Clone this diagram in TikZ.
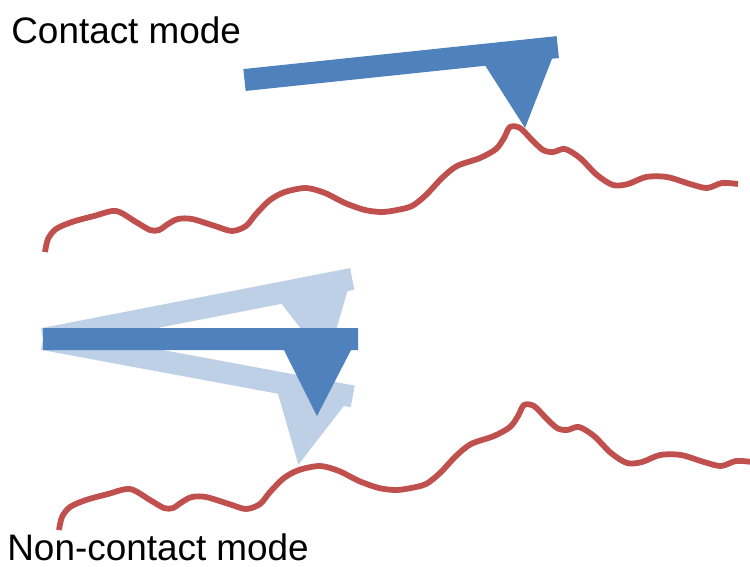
\documentclass[tikz,border=0pt]{standalone}
\usepackage{fontspec}
\setmainfont{Liberation Sans}
\usepackage{tikz}

\definecolor{tipblue}{RGB}{79,129,189}
\definecolor{tipghost}{RGB}{190,208,230}
\definecolor{surfred}{RGB}{192,80,77}

\tikzset{
  % beam with pyramidal tip, origin at middle of the clamped end
  cantilever/.pic={
    \path[pic actions] (0,-11) -- (315,-11) -- (315,11) -- (308,11)
      -- (274,77) -- (241,11) -- (0,11) -- cycle;
  },
  % rough sample surface
  surface/.pic={
    \path[pic actions] plot[smooth, tension=0.5] coordinates {
      (45,252) (48,239) (56,229) (72,222) (94,216) (116,211)
      (136,222) (150,230) (159,230) (168,224) (178,219) (192,219)
      (215,226) (232,231) (246,226) (256,214) (270,200) (285,192)
      (306,188) (325,193) (345,203) (365,210) (382,212) (397,210)
      (412,206) (426,195) (442,178) (457,166) (480,158) (496,149)
      (504,138) (510,127) (520,128) (532,140) (543,150) (553,152)
      (565,149) (580,158) (597,175) (613,185) (628,184) (646,177)
      (667,177) (690,184) (707,188) (722,183) (738,184)};
  },
  rough/.style={draw=surfred, line width=3.3pt, line join=round},
  modetext/.style={anchor=base west, inner sep=0pt,
    font=\fontsize{21}{24}\selectfont}
}

\begin{document}
\begin{tikzpicture}[x=0.02cm, y=-0.02cm]
  \useasboundingbox (0,0) rectangle (750,566);

  % === Contact mode ===
  \node[modetext] (contact) at (11,43) {Contact mode};
  \pic[rough] at (0,0) {surface};
  \pic[fill=tipblue, rotate=6] at (244.5,80) {cantilever};

  % === Non-contact mode: oscillating beam ===
  \pic[rough] at (14,278) {surface};
  \foreach \ang in {11,-10.5}
    \pic[fill=tipghost, rotate=\ang] at (43,339) {cantilever};
  \pic[fill=tipblue] at (43,339) {cantilever};
  \node[modetext] (noncontact) at (7,560) {Non-contact mode};
\end{tikzpicture}
\end{document}
